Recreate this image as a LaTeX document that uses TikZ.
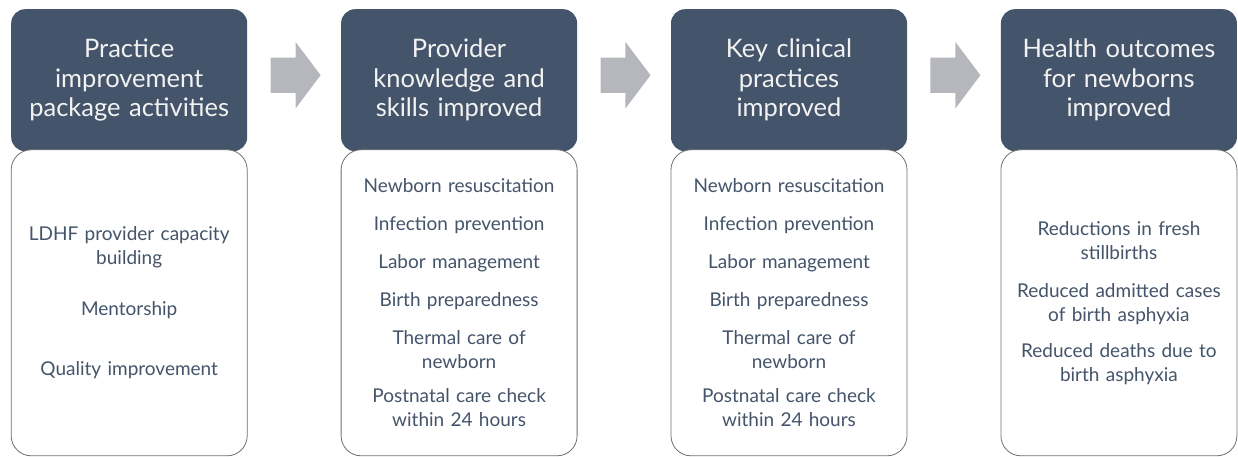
\documentclass[tikz,border=0pt]{standalone}
\usepackage{fontspec}
\setmainfont{Lato}
\usetikzlibrary{positioning, shapes.arrows}

\definecolor{slate}{HTML}{44546A}
\definecolor{arrowgray}{HTML}{B6B7BC}
\definecolor{framegray}{HTML}{707070}
\definecolor{headtext}{HTML}{F2F2F2}

\begin{document}
\begin{tikzpicture}[
    node distance=93.5pt,
    header/.style={
        fill=slate, rounded corners=14pt,
        minimum width=236pt, minimum height=142pt, text width=226pt,
        align=center, text=headtext, font=\fontsize{25.5}{29.5}\selectfont
    },
    body/.style={
        draw=framegray, line width=0.8pt, fill=white, rounded corners=20pt,
        minimum width=236pt, minimum height=306pt, text width=226pt,
        align=center, text=slate, font=\fontsize{19}{24}\selectfont
    },
    flowarrow/.style={
        single arrow, fill=arrowgray, inner xsep=0pt, inner ysep=17.5pt,
        minimum height=50pt,
        single arrow head extend=15.5pt, single arrow tip angle=106
    },
]
    \useasboundingbox (0pt,0pt) rectangle (1238pt,-456pt);

    \node[header, anchor=north west] at (11pt,-9pt) (h1) {Practice\\improvement\\package activities};
    \node[header, right =of h1]                    (h2) {Provider\\knowledge and\\skills improved};
    \node[header, right =of h2]                    (h3) {Key clinical\\practices\\improved};
    \node[header, right =of h3]                    (h4) {Health outcomes\\for newborns\\improved};

    \node[body, below=-2pt of h1] (b1) {LDHF provider capacity\\building\\[27pt]Mentorship\\[36pt]Quality improvement};
    \node[body, below=-2pt of h2] (b2) {Newborn resuscitation\\[14pt]Infection prevention\\[14pt]Labor management\\[14pt]Birth preparedness\\[14pt]Thermal care of\\newborn\\[10pt]Postnatal care check\\within 24 hours};
    \node[body, below=-2pt of h3] (b3) {Newborn resuscitation\\[14pt]Infection prevention\\[14pt]Labor management\\[14pt]Birth preparedness\\[14pt]Thermal care of\\newborn\\[10pt]Postnatal care check\\within 24 hours};
    \node[body, below=-2pt of h4] (b4) {Reductions in fresh\\stillbirths\\[14pt]Reduced admitted cases\\of birth asphyxia\\[12pt]Reduced deaths due to\\birth asphyxia};

    \node[flowarrow, right=23pt of h1, yshift=5pt] (a1) {};
    \node[flowarrow, right=23pt of h2, yshift=5pt] (a2) {};
    \node[flowarrow, right=23pt of h3, yshift=5pt] (a3) {};
\end{tikzpicture}
\end{document}
